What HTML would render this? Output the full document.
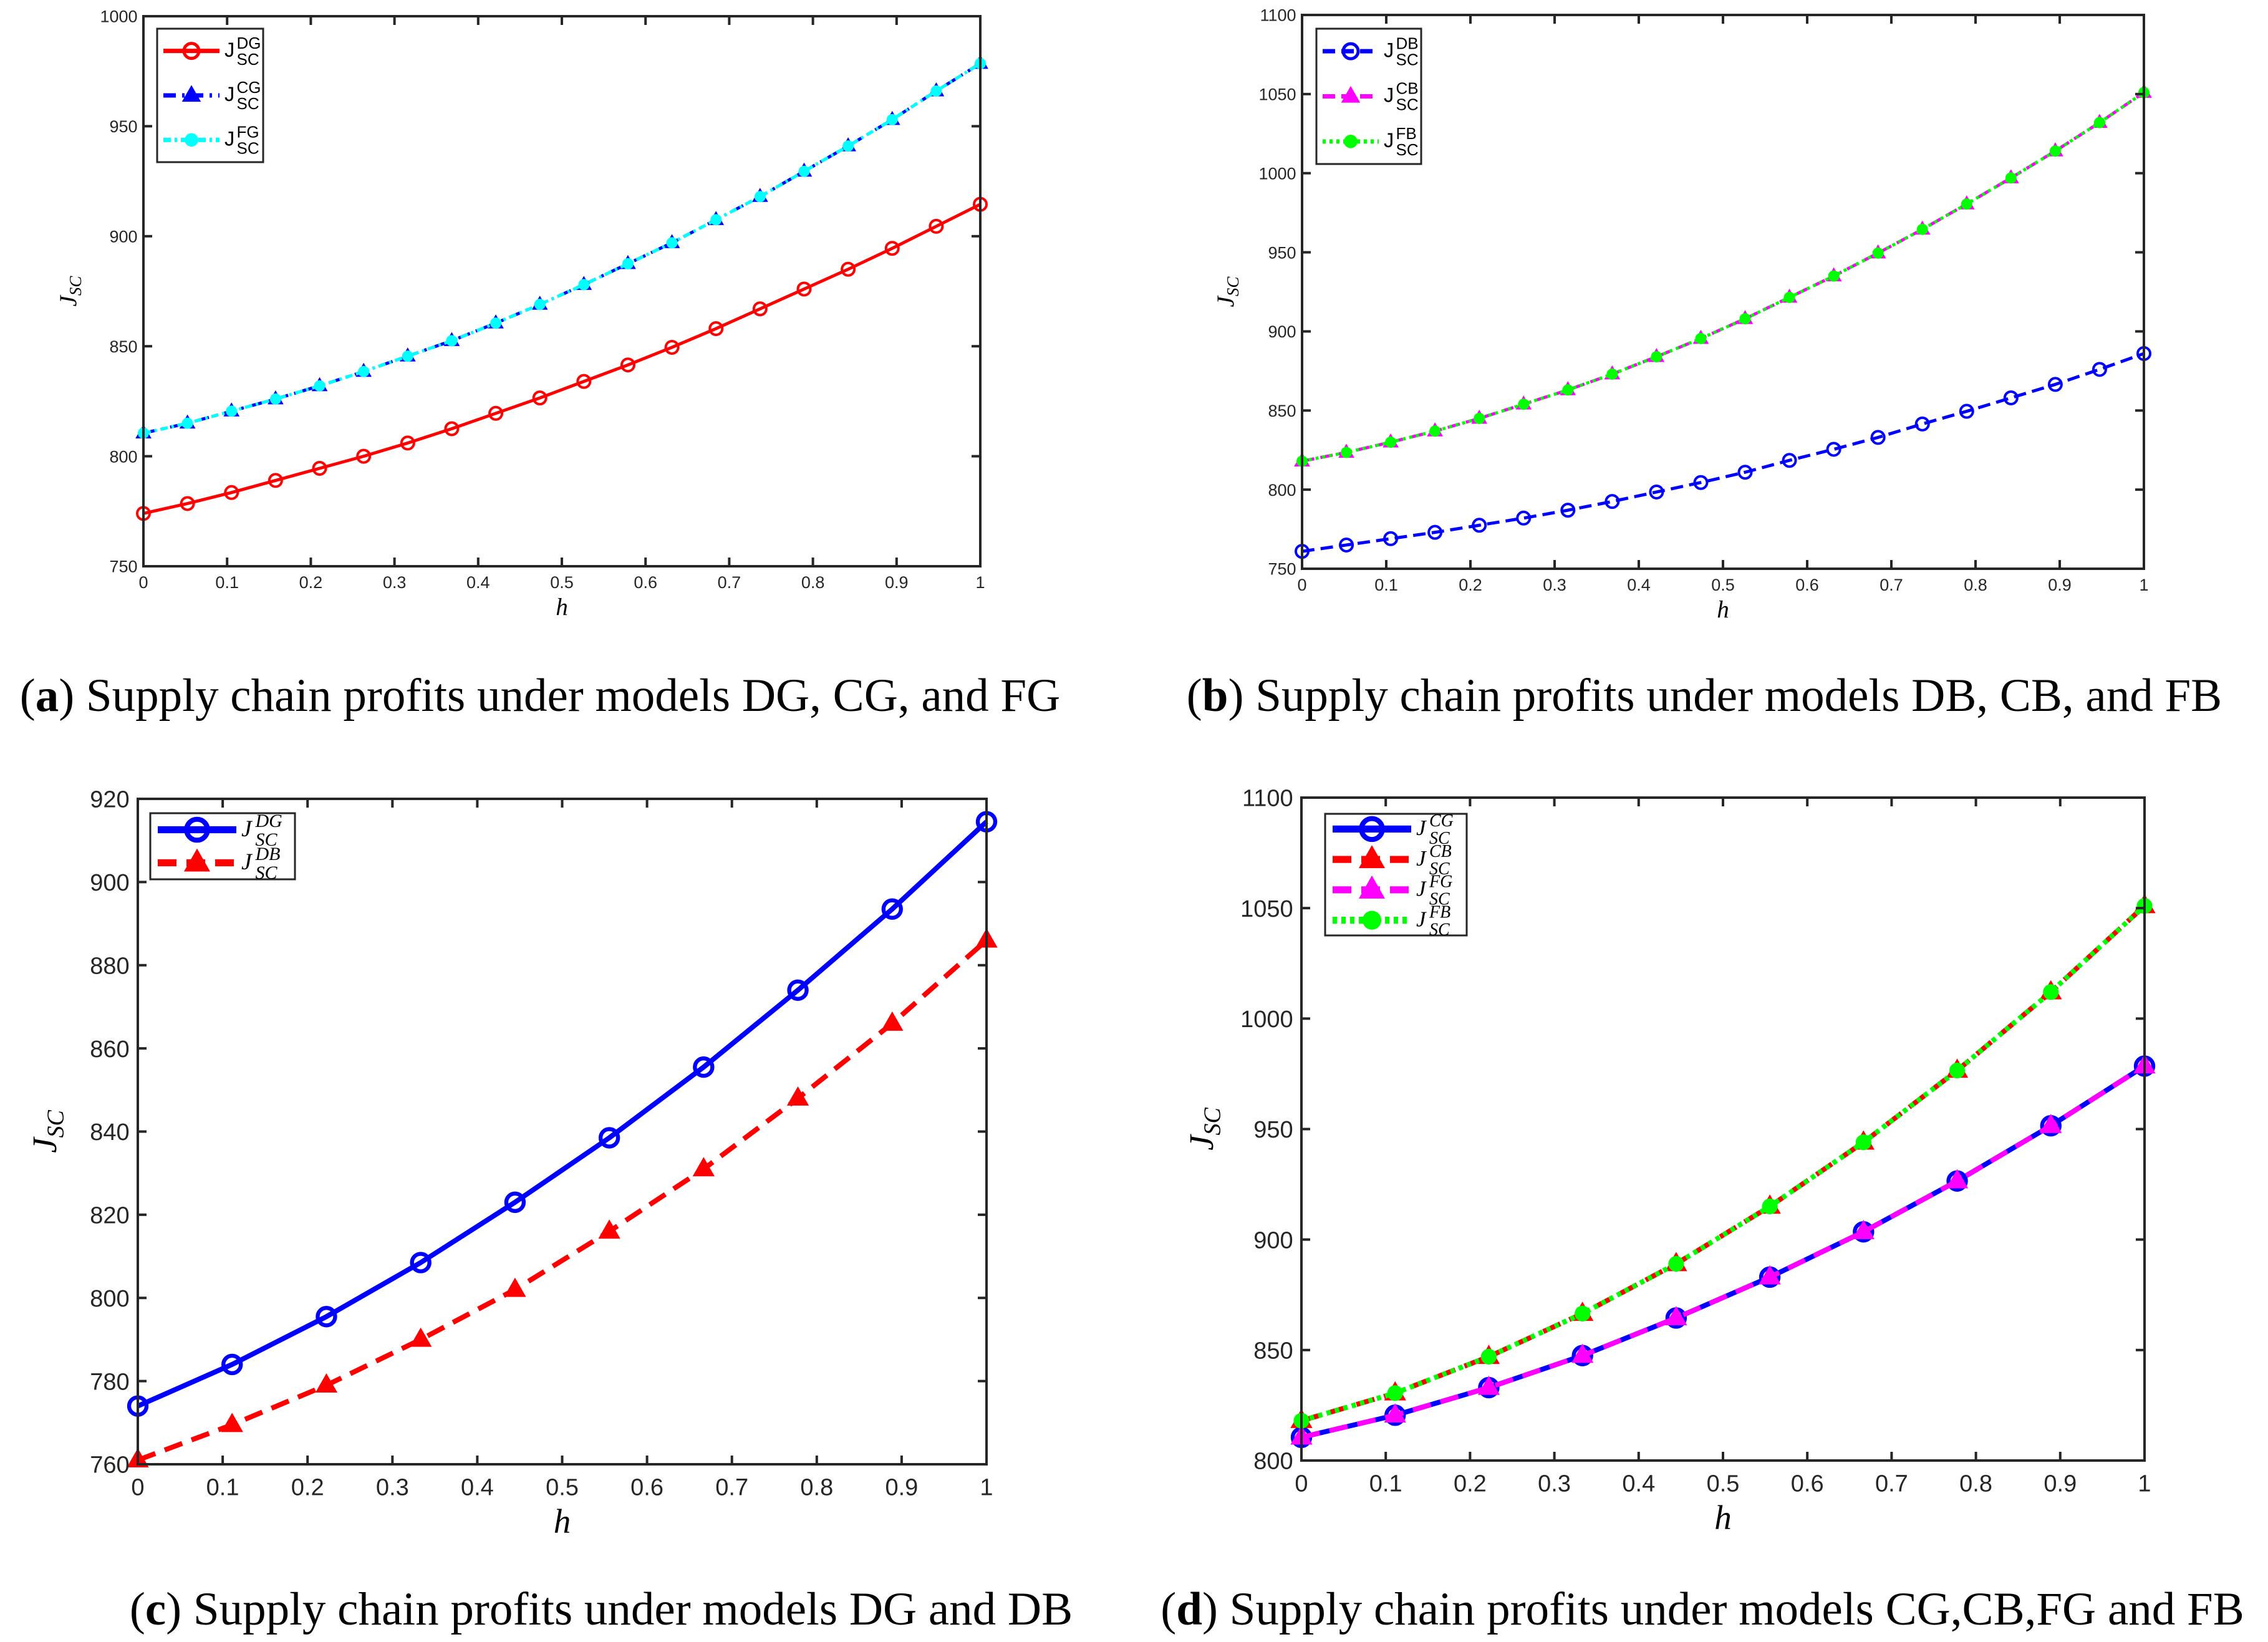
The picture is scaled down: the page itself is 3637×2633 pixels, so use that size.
<!DOCTYPE html>
<html><head><meta charset="utf-8">
<style>
html,body{margin:0;padding:0;background:#fff;}
svg{display:block;}
.tk{font-family:"Liberation Sans",sans-serif;fill:#262626;}
.cap{font-family:"Liberation Serif",serif;font-size:75px;fill:#000;}
</style></head>
<body>
<svg id="fig" width="3637" height="2633" viewBox="0 0 3637 2633" xmlns="http://www.w3.org/2000/svg">
<g id="pa"></g>
<g id="pb"></g>
<g id="pc"></g>
<g id="pd"></g>
<text class="cap" x="866" y="1140" text-anchor="middle">(<tspan font-weight="bold">a</tspan>) Supply chain profits under models DG, CG, and FG</text>
<text class="cap" x="2733" y="1140" text-anchor="middle">(<tspan font-weight="bold">b</tspan>) Supply chain profits under models DB, CB, and FB</text>
<text class="cap" x="964" y="2605" text-anchor="middle">(<tspan font-weight="bold">c</tspan>) Supply chain profits under models DG and DB</text>
<text class="cap" x="2730" y="2605" text-anchor="middle">(<tspan font-weight="bold">d</tspan>) Supply chain profits under models CG,CB,FG and FB</text>
</svg>
<script>
const xTicks = [0,0.1,0.2,0.3,0.4,0.5,0.6,0.7,0.8,0.9,1];
const xTickLabels = ["0","0.1","0.2","0.3","0.4","0.5","0.6","0.7","0.8","0.9","1"];
const aYTicks = [750,800,850,900,950,1000];
const bYTicks = [750,800,850,900,950,1000,1050,1100];
const cYTicks = [760,780,800,820,840,860,880,900,920];
const dYTicks = [800,850,900,950,1000,1050,1100];
const aDG = [774,778.5,783.5,789,794.5,800,806,812.5,819.5,826.5,834,841.5,849.5,858,867,876,885,894.5,904.5,914.5];
const aCG = [810.5,815,820.5,826,832,838.5,845.5,852.5,860.5,869,878,887.5,897,907.5,918,929.5,941,953,966,978.5];
const aFG = [810.5,815,820.5,826,832,838.5,845.5,852.5,860.5,869,878,887.5,897,907.5,918,929.5,941,953,966,978.5];
const bDB = [761,765,769,773,777.5,782,787,792.5,798.5,804.5,811,818.5,825.5,833,841.5,849.5,858,866.5,876,886];
const bCB = [818,823.5,830,837,845,854,863,873,884,895.5,908,921.5,935,949.5,964.5,980.5,997,1014,1032,1051];
const bFB = [818,823.5,830,837,845,854,863,873,884,895.5,908,921.5,935,949.5,964.5,980.5,997,1014,1032,1051];
const cDG = [774,784,795.5,808.5,823,838.5,855.5,874,893.5,914.5];
const cDB = [761,769.5,779,790,802,816,831,848,866,886];
const dCG = [810.5,820.5,833,847.5,864.5,883,903.5,926.5,951.5,978.5];
const dCB = [818,830.5,847,866.5,889,915,944,976.5,1012,1051];
const dFG = [810.5,820.5,833,847.5,864.5,883,903.5,926.5,951.5,978.5];
const dFB = [818,830.5,847,866.5,889,915,944,976.5,1012,1051];

const NS="http://www.w3.org/2000/svg";
function mk(tag,attrs,parent){const e=document.createElementNS(NS,tag);for(const k in attrs)e.setAttribute(k,attrs[k]);parent.appendChild(e);return e;}

function marker(g,type,x,y,r,color,lw){
  let m;
  if(type==='o'){m=mk('circle',{cx:x,cy:y,r:r,fill:'none',stroke:color,'stroke-width':lw},g);}
  else if(type==='^'){m=mk('polygon',{points:`${x},${y-r*1.3} ${x-r*1.2},${y+r*0.8} ${x+r*1.2},${y+r*0.8}`,fill:color,stroke:color,'stroke-width':1},g);}
  else {m=mk('circle',{cx:x,cy:y,r:r*0.9,fill:color},g);}
  
  
}

function panel(id,cfg){
  const g=document.getElementById(id);
  const {L,R,T,B,ymin,ymax,yTicks,fs,tl,series,leg,lw,mr}=cfg;
  const sx=v=>L+(R-L)*v, sy=v=>B-(B-T)*(v-ymin)/(ymax-ymin);
  series.forEach(s=>{
    const sg=mk('g',{},g);
    
    
    const n=s.data.length;
    const pts=s.data.map((v,i)=>sx(i/(n-1))+','+sy(v)).join(' ');
    mk('polyline',{points:pts,fill:'none',stroke:s.color,'stroke-width':lw,'stroke-dasharray':s.dash||'none','stroke-linejoin':'round'},sg);
    s.data.forEach((v,i)=>marker(sg,s.m,sx(i/(n-1)),sy(v),mr,s.color,lw*0.8));
  });
  const box=mk('rect',{x:L,y:T,width:R-L,height:B-T,fill:'none',stroke:'#262626','stroke-width':4},g);
  
  
  xTicks.forEach((t,i)=>{
    const x=sx(t);
    mk('line',{x1:x,y1:B,x2:x,y2:B-tl,stroke:'#262626','stroke-width':4},g);
    mk('line',{x1:x,y1:T,x2:x,y2:T+tl,stroke:'#262626','stroke-width':4},g);
    const tx=mk('text',{x:x,y:B+fs*1.3,'text-anchor':'middle','font-size':fs,class:'tk'},g);
    tx.textContent=xTickLabels[i];
    
    
  });
  yTicks.forEach(t=>{
    const y=sy(t);
    mk('line',{x1:L,y1:y,x2:L+tl,y2:y,stroke:'#262626','stroke-width':4},g);
    mk('line',{x1:R,y1:y,x2:R-tl,y2:y,stroke:'#262626','stroke-width':4},g);
    const ty=mk('text',{x:L-fs*0.35,y:y+fs*0.36,'text-anchor':'end','font-size':fs,class:'tk'},g);
    ty.textContent=String(t);
    
    
  });
  const xl=mk('text',{x:(L+R)/2,y:B+fs*2.9,'text-anchor':'middle','font-size':fs*1.45,'font-style':'italic','font-family':'Liberation Serif,serif'},g);
  xl.textContent='h';
  
  
  const yx=cfg.ylx, yy=(T+B)/2;
  const yl=mk('text',{x:yx,y:yy,'text-anchor':'middle','font-size':fs*1.45,'font-style':'italic','font-family':'Liberation Serif,serif',transform:`rotate(-90 ${yx} ${yy})`},g);
  yl.innerHTML='J<tspan font-size="'+(fs*1.0)+'" dy="'+(fs*0.3)+'">SC</tspan>';
  
  
  const lg=mk('g',{},g);
  
  
  mk('rect',{x:leg.x,y:leg.y,width:leg.w,height:leg.h,fill:'#fff',stroke:'#262626','stroke-width':3},lg);
  const rowH=leg.h/series.length;
  const ff=leg.it?'Liberation Serif,serif':'Liberation Sans,sans-serif';
  const fst=leg.it?'italic':'normal';
  series.forEach((s,i)=>{
    const cy=leg.y+rowH*(i+0.5);
    const e=mk('g',{},lg);
    
    
    const x1=leg.x+leg.pad, x2=leg.x+leg.pad+leg.line;
    mk('line',{x1:x1,y1:cy,x2:x2,y2:cy,stroke:s.color,'stroke-width':lw*1.4,'stroke-dasharray':s.dash||'none'},e);
    marker(e,s.m,(x1+x2)/2,cy,mr*1.2,s.color,lw);
    const t=mk('text',{x:x2+8,y:cy+leg.fs*0.35,'font-size':leg.fs*1.25,'font-family':ff,'font-style':fst},e);
    t.textContent='J';
    const sxp=x2+8+leg.fs*0.75;
    const t2=mk('text',{x:sxp,y:cy-leg.fs*0.15,'font-size':leg.fs,'font-family':ff,'font-style':fst},e);
    t2.textContent=s.sup;
    const t3=mk('text',{x:sxp,y:cy+leg.fs*0.85,'font-size':leg.fs,'font-family':ff,'font-style':fst},e);
    t3.textContent='SC';
  });
}

panel('pa',{L:230,R:1572,T:26,B:908,ymin:750,ymax:1000,yTicks:aYTicks,fs:27,tl:14,lw:5,mr:10,ylx:122,
  series:[{name:'series-dg',data:aDG,color:'#ff0000',m:'o',sup:'DG'},
          {name:'series-cg',data:aCG,color:'#0000ff',m:'^',dash:'20 10 4 10',sup:'CG'},
          {name:'series-fg',data:aFG,color:'#00ffff',m:'*',dash:'12 6 4 6',sup:'FG'}],
  leg:{x:252,y:46,w:170,h:214,pad:10,line:90,fs:26,it:false}});
panel('pb',{L:2088,R:3438,T:24,B:912,ymin:750,ymax:1100,yTicks:bYTicks,fs:27,tl:14,lw:5,mr:10,ylx:1978,
  series:[{name:'series-db',data:bDB,color:'#0000ff',m:'o',dash:'20 10',sup:'DB'},
          {name:'series-cb',data:bCB,color:'#ff00ff',m:'^',dash:'20 10',sup:'CB'},
          {name:'series-fb',data:bFB,color:'#00ff00',m:'*',dash:'5 6',sup:'FB'}],
  leg:{x:2111,y:46,w:168,h:217,pad:10,line:90,fs:26,it:false}});
panel('pc',{L:221,R:1582,T:1281,B:2348,ymin:760,ymax:920,yTicks:cYTicks,fs:38,tl:14,lw:8,mr:14,ylx:90,
  series:[{name:'series-dg',data:cDG,color:'#0000ff',m:'o',sup:'DG'},
          {name:'series-db',data:cDB,color:'#ff0000',m:'^',dash:'30 16',sup:'DB'}],
  leg:{x:241,y:1304,w:232,h:106,pad:12,line:126,fs:30,it:true}});
panel('pd',{L:2087,R:3439,T:1279,B:2342,ymin:800,ymax:1100,yTicks:dYTicks,fs:38,tl:14,lw:8,mr:14,ylx:1945,
  series:[{name:'series-cg',data:dCG,color:'#0000ff',m:'o',sup:'CG'},
          {name:'series-cb',data:dCB,color:'#ff0000',m:'^',dash:'30 16',sup:'CB'},
          {name:'series-fg',data:dFG,color:'#ff00ff',m:'^',dash:'30 16',sup:'FG'},
          {name:'series-fb',data:dFB,color:'#00ff00',m:'*',dash:'7 7',sup:'FB'}],
  leg:{x:2125,y:1305,w:227,h:195,pad:12,line:126,fs:28,it:true}});
</script>
</body></html>
